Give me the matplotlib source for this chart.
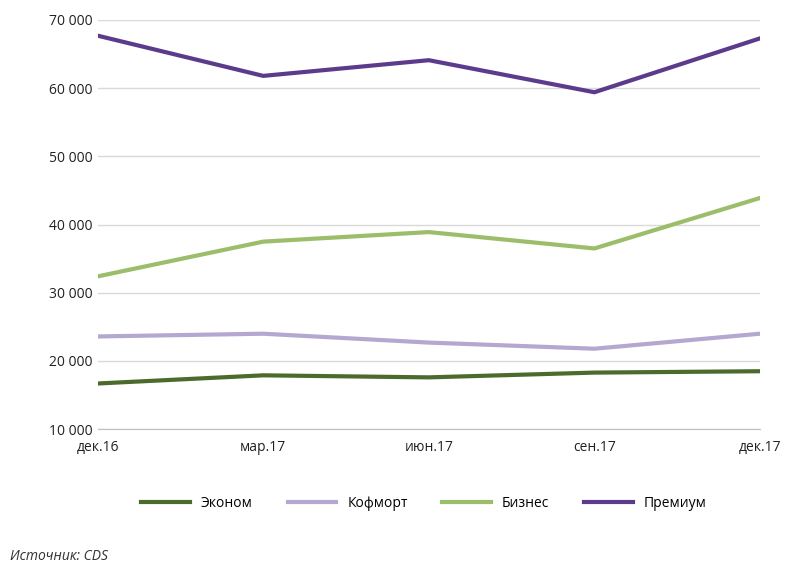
import matplotlib
matplotlib.use("Agg")
from matplotlib import pyplot as plt
from matplotlib.ticker import FuncFormatter

plt.rcParams['font.family'] = 'Open Sans'

dates = ['дек.16', 'мар.17', 'июн.17', 'сен.17', 'дек.17']
econom = [16700, 17900, 17600, 18300, 18500]
comfort = [23600, 24000, 22700, 21800, 24000]
business = [32400, 37500, 38900, 36500, 43900]
premium = [67700, 61800, 64100, 59400, 67300]

fig = plt.figure(figsize=(8, 5.7), dpi=100)
ax = fig.add_axes([0.122, 0.247, 0.828, 0.718])
x = range(len(dates))
ax.plot(x, econom, color='#4b6b2c', lw=3, label='Эконом')
ax.plot(x, comfort, color='#b4a7d0', lw=3, label='Кофморт')
ax.plot(x, business, color='#9cbd6a', lw=3, label='Бизнес')
ax.plot(x, premium, color='#5c3b8c', lw=3, label='Премиум')

ax.set_xlim(0, 4)
ax.set_ylim(10000, 70000)
ax.set_yticks(range(10000, 70001, 10000))
ax.yaxis.set_major_formatter(FuncFormatter(lambda v, p: f'{int(v):,}'.replace(',', ' ')))
ax.set_xticks(list(x))
ax.set_xticklabels(dates)
ax.grid(axis='y', color='#d9d9d9', lw=1)
ax.set_axisbelow(True)
for s in ['top', 'right', 'left']:
    ax.spines[s].set_visible(False)
ax.spines['bottom'].set_color('#bfbfbf')
ax.tick_params(length=0, labelsize=10, colors='#222222')
ax.tick_params(axis='x', pad=8)

fig.legend(loc='center', bbox_to_anchor=(0.53, 0.117), ncol=4, frameon=False,
           fontsize=10, handlelength=3.5, columnspacing=2.5)
fig.text(0.012, 0.018, 'Источник: CDS', style='italic', fontsize=10, color='#333333')
fig.savefig('out.png')
